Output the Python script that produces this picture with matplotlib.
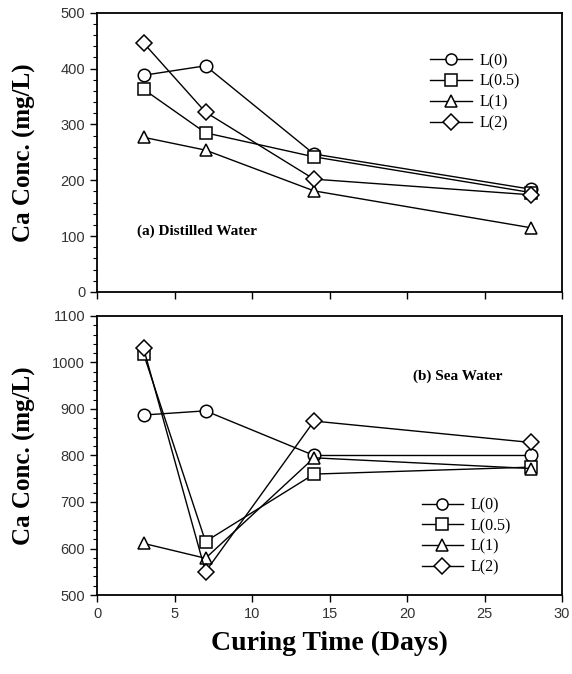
import numpy as np
import matplotlib
matplotlib.use('Agg')
import matplotlib.pyplot as plt
from matplotlib.ticker import MultipleLocator

days = [3, 7, 14, 28]
labels = ['L(0)', 'L(0.5)', 'L(1)', 'L(2)']
markers = ['o', 's', '^', 'D']

# (a) distilled water
dw_L0 = [388, 405, 247, 184]
dw_L05 = [363, 285, 242, 178]
dw_L1 = [277, 254, 181, 115]
dw_L2 = [446, 322, 202, 174]

# (b) sea water
sw_L0 = [887, 896, 800, 800]
sw_L05 = [1019, 615, 760, 775]
sw_L1 = [611, 579, 795, 772]
sw_L2 = [1031, 550, 874, 828]

serif = 'Liberation Serif'
sans = 'Liberation Sans'

fig = plt.figure(figsize=(5.72, 6.74), dpi=100)
ax1 = fig.add_axes([0.1696, 0.5668, 0.813, 0.4143])
ax2 = fig.add_axes([0.1696, 0.1172, 0.813, 0.4140])

def style(ax, data, ylim, ymaj, leg_anchor):
    for vals, lab, m in zip(data, labels, markers):
        ms = 8 if m == 'D' else 9
        ax.plot(days, vals, color='black', lw=1, marker=m, ms=ms,
                mfc='white', mec='black', mew=1.1, label=lab)
    ax.set_xlim(0, 30)
    ax.set_ylim(*ylim)
    ax.xaxis.set_major_locator(MultipleLocator(5))
    ax.yaxis.set_major_locator(MultipleLocator(ymaj))
    ax.yaxis.set_minor_locator(MultipleLocator(ymaj / 5))
    ax.tick_params(axis='both', which='major', direction='out', length=5,
                   width=1, labelsize=10.5, top=False, right=False)
    ax.tick_params(axis='y', which='minor', direction='out', length=3, width=0.8)
    for lab in ax.get_xticklabels() + ax.get_yticklabels():
        lab.set_fontfamily(sans)
        lab.set_color('#333333')
    for sp in ax.spines.values():
        sp.set_linewidth(1.3)
    leg = ax.legend(loc='upper left', bbox_to_anchor=leg_anchor, frameon=False,
                    numpoints=1, handlelength=2.6, labelspacing=0.3,
                    prop={'family': serif, 'size': 11.5}, handletextpad=0.5)
    for h in leg.legend_handles:
        h.set_markersize(8)
    ax.set_ylabel('Ca Conc. (mg/L)', fontfamily=serif, fontweight='bold',
                  fontsize=18)
    ax.yaxis.set_label_coords(-0.131, 0.5)

style(ax1, [dw_L0, dw_L05, dw_L1, dw_L2], (0, 500), 100, (0.686, 0.907))
style(ax2, [sw_L0, sw_L05, sw_L1, sw_L2], (500, 1100), 100, (0.667, 0.402))
ax1.tick_params(axis='x', labelbottom=False)

ax1.text(0.085, 0.205, '(a) Distilled Water', transform=ax1.transAxes,
         fontfamily=serif, fontweight='bold', fontsize=11)
ax2.text(0.68, 0.77, '(b) Sea Water', transform=ax2.transAxes,
         fontfamily=serif, fontweight='bold', fontsize=11)

ax2.set_xlabel('Curing Time (Days)', fontfamily=serif, fontweight='bold',
               fontsize=20, labelpad=7)

fig.savefig('out.png', dpi=100)
